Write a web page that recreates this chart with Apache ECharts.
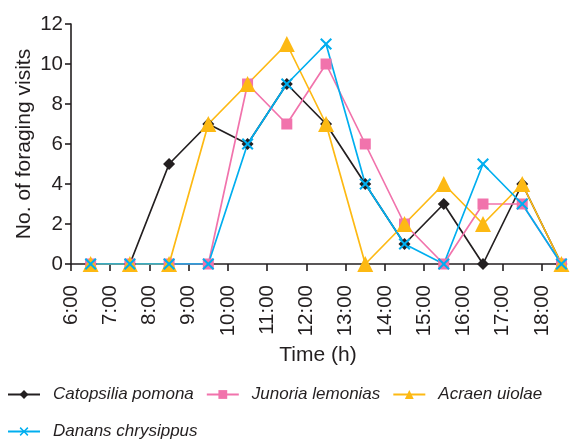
<!DOCTYPE html>
<html>
<head>
<meta charset="utf-8">
<script src="https://cdn.jsdelivr.net/npm/echarts@6/dist/echarts.min.js"></script>
<style>
html,body{margin:0;padding:0;background:#fff;}
#chart{width:570px;height:439px;}
</style>
</head>
<body>
<div id="chart"></div>
<script>
// Hour tick labels (start of each one-hour observation interval)
var hourTicks = [6, 7, 8, 9, 10, 11, 12, 13, 14, 15, 16, 17, 18];
var tickLabels = ['6:00','7:00','8:00','9:00','10:00','11:00','12:00','13:00','14:00','15:00','16:00','17:00','18:00'];
// Observation intervals: points plotted at the middle of each hour interval
var intervalMid = [6.5, 7.5, 8.5, 9.5, 10.5, 11.5, 12.5, 13.5, 14.5, 15.5, 16.5, 17.5, 18.5];

var speciesNames = ['Catopsilia pomona', 'Junoria lemonias', 'Acraen uiolae', 'Danans chrysippus'];
var catopsiliaPomona = [0, 0, 5, 7, 6, 9, 7, 4, 1, 3, 0, 4, 0];
var junoriaLemonias  = [0, 0, 0, 0, 9, 7, 10, 6, 2, 0, 3, 3, 0];
var acraenUiolae     = [0, 0, 0, 7, 9, 11, 7, 0, 2, 4, 2, 4, 0];
var danansChrysippus = [0, 0, 0, 0, 6, 9, 11, 4, 1, 0, 5, 3, 0];

var dark = '#231f20';
var crossPath = 'path://M0,1.2L1.2,0L5,3.8L8.8,0L10,1.2L6.2,5L10,8.8L8.8,10L5,6.2L1.2,10L0,8.8L3.8,5Z';
var font = 'Liberation Sans, Arial, sans-serif';

function pairs(vals) {
  return vals.map(function (v, i) { return [intervalMid[i], v]; });
}

function mkSeries(name, vals, color, symbol, size) {
  return {
    name: name,
    type: 'line',
    data: pairs(vals),
    symbol: symbol,
    symbolSize: size,
    showSymbol: true,
    lineStyle: { color: color, width: 1.7 },
    itemStyle: { color: color },
    emphasis: { disabled: true },
    animation: false
  };
}

var chart = echarts.init(document.getElementById('chart'), null, { renderer: 'canvas' });

var legendText = {
  fontFamily: font,
  fontSize: 17,
  fontStyle: 'italic',
  color: dark,
  padding: [0, 0, 0, 8]
};

chart.setOption({
  backgroundColor: '#ffffff',
  animation: false,
  textStyle: { fontFamily: font, color: dark },
  grid: { left: 71, top: 24, width: 494, height: 240, containLabel: false },
  legend: [
    {
      data: speciesNames.slice(0, 3),
      left: 7, top: 386, padding: 0,
      itemWidth: 32, itemHeight: 11, itemGap: 12,
      textStyle: legendText,
      selectedMode: false
    },
    {
      data: speciesNames.slice(3),
      left: 7, top: 423, padding: 0,
      itemWidth: 32, itemHeight: 11, itemGap: 12,
      textStyle: legendText,
      selectedMode: false
    }
  ],
  xAxis: {
    type: 'value',
    min: 6,
    max: 18.59,
    name: 'Time (h)',
    nameLocation: 'middle',
    nameGap: 81,
    nameMoveOverlap: false,
    nameTextStyle: { fontSize: 21, color: dark, fontFamily: font },
    axisLine: { show: true, onZero: false, lineStyle: { color: dark, width: 1.6 } },
    axisTick: { show: true, length: 7, customValues: hourTicks, lineStyle: { color: dark, width: 1.6 } },
    axisLabel: {
      customValues: hourTicks,
      rotate: 90,
      margin: 21,
      fontSize: 20.5,
      color: dark,
      formatter: function (v) {
        var i = hourTicks.indexOf(v);
        return i >= 0 ? tickLabels[i] : '';
      }
    },
    splitLine: { show: false }
  },
  yAxis: {
    type: 'value',
    min: 0,
    max: 12,
    interval: 2,
    name: 'No. of foraging visits',
    nameLocation: 'middle',
    nameGap: 36,
    nameMoveOverlap: false,
    nameTextStyle: { fontSize: 21, color: dark, fontFamily: font },
    axisLine: { show: true, lineStyle: { color: dark, width: 1.6 } },
    axisTick: { show: true, length: 6, lineStyle: { color: dark, width: 1.6 } },
    axisLabel: { fontSize: 20.5, color: dark, margin: 8 },
    splitLine: { show: false }
  },
  series: [
    mkSeries(speciesNames[0], catopsiliaPomona, dark, 'diamond', 12),
    mkSeries(speciesNames[1], junoriaLemonias, '#f173ac', 'rect', 11),
    mkSeries(speciesNames[2], acraenUiolae, '#fdb913', 'triangle', 16),
    mkSeries(speciesNames[3], danansChrysippus, '#00aeef', crossPath, 12)
  ]
});
</script>
</body>
</html>
